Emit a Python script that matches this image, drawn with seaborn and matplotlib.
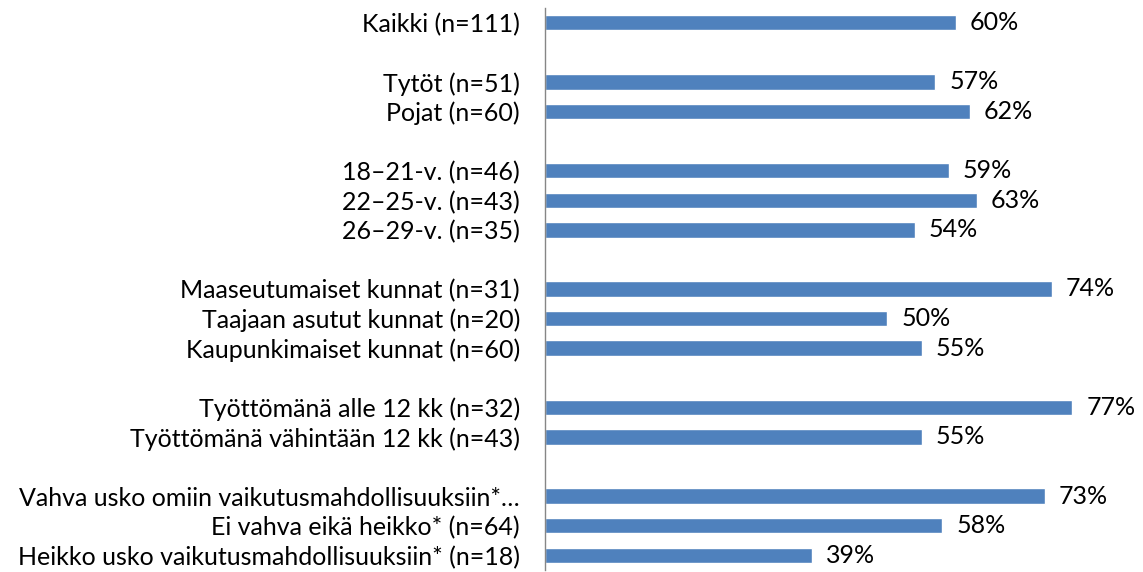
import pandas as pd
import seaborn as sns
import matplotlib.pyplot as plt

# rows from top to bottom; empty strings of different length are the gaps between groups
labels = [
    "Kaikki (n=111)",
    " ",
    "Tytöt (n=51)",
    "Pojat (n=60)",
    "  ",
    "18–21-v. (n=46)",
    "22–25-v. (n=43)",
    "26–29-v. (n=35)",
    "   ",
    "Maaseutumaiset kunnat (n=31)",
    "Taajaan asutut kunnat (n=20)",
    "Kaupunkimaiset kunnat (n=60)",
    "    ",
    "Työttömänä alle 12 kk (n=32)",
    "Työttömänä vähintään 12 kk (n=43)",
    "     ",
    "Vahva usko omiin vaikutusmahdollisuuksiin*…",
    "Ei vahva eikä heikko* (n=64)",
    "Heikko usko vaikutusmahdollisuuksiin* (n=18)",
]
values = [60, None, 57, 62, None, 59, 63, 54, None, 74, 50, 55, None, 77, 55, None, 73, 58, 39]

df = pd.DataFrame({"label": labels, "value": values})

sns.set_theme(style="white")
plt.rcParams["font.family"] = ["Lato", "DejaVu Sans"]

fig = plt.figure(figsize=(11.43, 5.72), dpi=100)
ax = fig.add_axes([545 / 1143, 2 / 572, 1 - 545 / 1143, 562 / 572])

sns.barplot(data=df.dropna(), x="value", y="label", order=labels,
            color="#4F81BD", saturation=1, width=0.52, ax=ax)

for c in ax.containers:
    ax.bar_label(c, fmt="%d%%", padding=10, fontsize=18, color="black")

ax.set_xlim(0, 87.3)
ax.set_xlabel("")
ax.set_ylabel("")
ax.set_xticks([])
ax.tick_params(axis="y", length=0, pad=18, labelsize=18, labelcolor="black")
for side in ["top", "right", "bottom"]:
    ax.spines[side].set_visible(False)
ax.spines["left"].set_color("#868686")
ax.spines["left"].set_linewidth(1)

fig.savefig("out.png", dpi=100)
